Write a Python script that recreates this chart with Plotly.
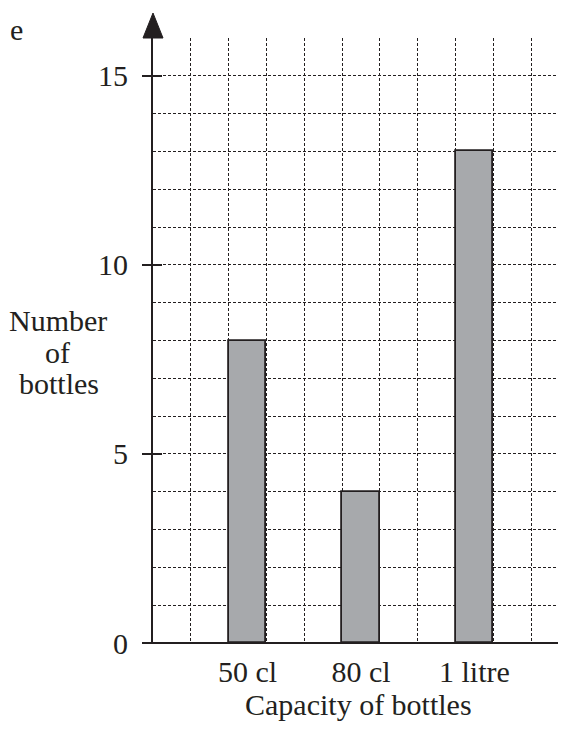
import plotly.graph_objects as go

categories = ["50 cl", "80 cl", "1 litre"]
counts = [8, 4, 13]
y_ticks = [0, 5, 10, 15]

INK = "#231f20"
FONT = "Liberation Serif, Times New Roman, serif"
FS = 30
OFF = 8  # default page body margin
PAGE_W, PAGE_H = 566, 731
W, H = PAGE_W - OFF, PAGE_H - OFF
AX_X, BASE_Y, TOP_Y = 153 - OFF, 643 - OFF, 38 - OFF
ML, MR, MT, MB = AX_X, 0, TOP_Y, H - BASE_Y
PW, PH = W - ML - MR, H - MT - MB
UNIT = PH / 16
XMAX = PW / UNIT
YMAX = 16

xpos = [2.5 + 3 * i for i in range(len(categories))]


def px_x(page_x):
    return (page_x - OFF - ML) / PW


def px_y(page_y):
    return (BASE_Y - (page_y - OFF)) / PH


fig = go.Figure()
fig.add_trace(go.Bar(
    x=xpos, y=counts, width=1,
    marker=dict(color="#a7a9ac", line=dict(color=INK, width=1.8)),
    showlegend=False, hoverinfo="skip",
))
fig.add_trace(go.Scatter(x=[0], y=[0], xaxis="x2", yaxis="y2", mode="markers",
                         marker=dict(opacity=0), showlegend=False, hoverinfo="skip"))

grid = dict(showgrid=True, gridcolor=INK, gridwidth=1, griddash="3px,2px")

fig.update_layout(
    width=W, height=H, autosize=False,
    margin=dict(l=ML, r=MR, t=MT, b=MB, pad=0),
    paper_bgcolor="white", plot_bgcolor="white",
    font=dict(family=FONT, color=INK, size=FS),
    bargap=0,
    xaxis=dict(range=[0, XMAX], tickmode="array", tickvals=xpos, ticktext=categories,
               showgrid=False, zeroline=False, showline=False, ticks="",
               ticklabelstandoff=8, tickfont=dict(size=FS, family=FONT, color=INK)),
    xaxis2=dict(range=[0, XMAX], overlaying="x", matches="x", dtick=1, tick0=0,
                showticklabels=False, ticks="", zeroline=False, showline=False, **grid),
    yaxis=dict(range=[0, YMAX + 0.0001], tickmode="array", tickvals=y_ticks,
               ticks="outside", ticklen=9, tickwidth=2, tickcolor=INK,
               showline=True, linewidth=2, linecolor=INK, zeroline=False,
               ticklabelstandoff=8, tickfont=dict(size=FS, family=FONT, color=INK),
               minor=dict(dtick=1, tick0=0, showgrid=True, gridcolor=INK,
                          gridwidth=1, griddash="3px,2px", ticks=""),
               **grid),
    yaxis2=dict(range=[0, YMAX + 0.0001], overlaying="y", tickmode="array",
                tickvals=y_ticks[1:], ticks="inside", ticklen=9, tickwidth=2,
                tickcolor=INK, showticklabels=False, showgrid=False,
                zeroline=False, showline=False),
)

# x axis baseline extending left of the y axis
fig.add_shape(type="line", xref="paper", yref="paper", x0=-10 / PW, x1=1, y0=0, y1=0,
              line=dict(color=INK, width=2))
# arrow head on y axis
ax_w = 10 / PW
ah = 25 / PH
fig.add_shape(type="path", xref="paper", yref="paper",
              path=f"M {-ax_w},1 L {ax_w},1 L 0,{1 + ah} Z",
              fillcolor=INK, line=dict(color=INK, width=1))

for txt, cx, cy in [("Number", 58, 320), ("of", 57, 352), ("bottles", 59, 383)]:
    fig.add_annotation(text=txt, xref="paper", yref="paper",
                       x=px_x(cx), y=px_y(cy), showarrow=False,
                       xanchor="center", yanchor="middle",
                       font=dict(size=FS, family=FONT, color=INK))
fig.add_annotation(text="Capacity of bottles", xref="paper", yref="paper",
                   x=px_x(358), y=px_y(704), showarrow=False,
                   xanchor="center", yanchor="middle",
                   font=dict(size=FS, family=FONT, color=INK))
fig.add_annotation(text="e", xref="paper", yref="paper",
                   x=-ML / PW, y=px_y(30), showarrow=False,
                   xanchor="left", yanchor="middle",
                   font=dict(size=FS, family=FONT, color=INK))

fig.write_html("out.html")
